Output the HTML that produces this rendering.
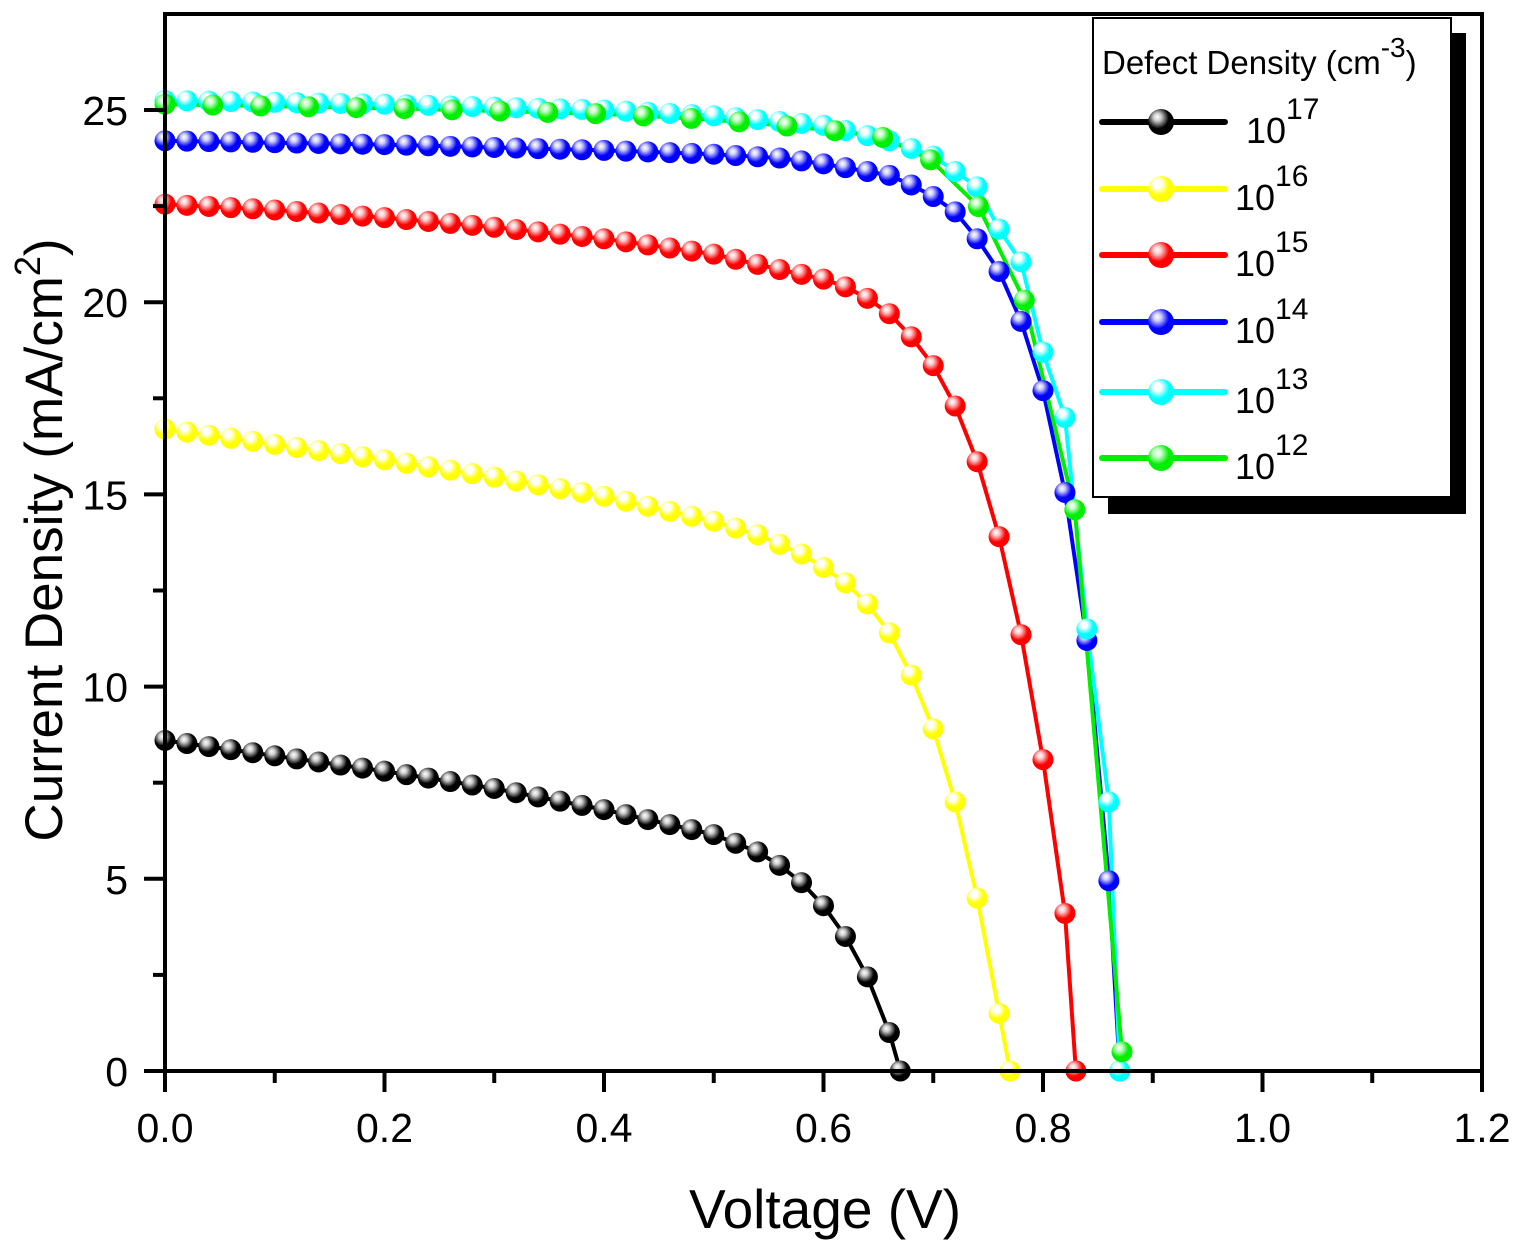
<!DOCTYPE html>
<html><head><meta charset="utf-8"><style>
html,body{margin:0;padding:0;background:#fff}
svg{display:block;font-family:"Liberation Sans",Arial,sans-serif}
</style></head><body>
<svg id="s" width="1526" height="1247" viewBox="0 0 1526 1247" xmlns="http://www.w3.org/2000/svg">
<defs id="d"></defs>
<g id="plot"></g>
<rect x="165" y="14" width="1317" height="1057" fill="none" stroke="#000" stroke-width="4"/>
<g id="ticks" stroke="#000" stroke-width="4"></g>
<g font-size="41" text-anchor="middle" id="xl"></g>
<g font-size="41" text-anchor="end" id="yl"></g>
<text x="825" y="1228" font-size="55" text-anchor="middle">Voltage (V)</text>
<text transform="translate(62,540) rotate(-90)" font-size="53" text-anchor="middle">Current Density (mA/cm<tspan dy="-22" font-size="36">2</tspan><tspan dy="22">)</tspan></text>
<rect x="1108" y="33" width="358" height="481" fill="#000"/>
<rect x="1093" y="18" width="358" height="479" fill="#fff" stroke="#000" stroke-width="2"/>
<text x="1102" y="74" font-size="33">Defect Density (cm<tspan dy="-17" font-size="28">-3</tspan><tspan dy="17">)</tspan></text>
<g id="leg"></g>
</svg>
<script>
const X=v=>165+v*1097.5, Y=j=>1071-j*38.44;
const ns="http://www.w3.org/2000/svg";
function el(t,a,p){const e=document.createElementNS(ns,t);for(const k in a)e.setAttribute(k,a[k]);p.appendChild(e);return e;}
const series=[
{c:"#000000",hi:"#cccccc",k:[[0,8.6],[0.1,8.2],[0.2,7.8],[0.3,7.35],[0.4,6.8],[0.5,6.15],[0.54,5.7],[0.56,5.35],[0.58,4.9],[0.6,4.3],[0.62,3.5],[0.64,2.45],[0.66,1.0],[0.67,0]],st:0.02,end:0.67,lab:"17"},
{c:"#ffff00",hi:"#ffffff",k:[[0,16.7],[0.1,16.3],[0.2,15.9],[0.3,15.45],[0.4,14.95],[0.5,14.3],[0.54,13.95],[0.58,13.45],[0.6,13.1],[0.62,12.7],[0.64,12.15],[0.66,11.4],[0.68,10.3],[0.7,8.9],[0.72,7.0],[0.74,4.5],[0.76,1.5],[0.77,0]],st:0.02,end:0.77,lab:"16"},
{c:"#ff0000",hi:"#ffcccc",k:[[0,22.55],[0.1,22.4],[0.2,22.2],[0.3,21.95],[0.4,21.65],[0.5,21.25],[0.56,20.85],[0.6,20.6],[0.62,20.4],[0.64,20.1],[0.66,19.7],[0.68,19.1],[0.7,18.35],[0.72,17.3],[0.74,15.85],[0.76,13.9],[0.78,11.35],[0.8,8.1],[0.82,4.1],[0.83,0]],st:0.02,end:0.83,lab:"15"},
{c:"#0000ff",hi:"#ccccff",k:[[0,24.2],[0.2,24.1],[0.4,23.95],[0.5,23.85],[0.56,23.75],[0.6,23.6],[0.62,23.5],[0.64,23.4],[0.66,23.3],[0.68,23.05],[0.7,22.75],[0.72,22.35],[0.74,21.65],[0.76,20.8],[0.78,19.5],[0.8,17.7],[0.82,15.05],[0.84,11.2],[0.86,4.95],[0.87,0]],st:0.02,end:0.87,lab:"14"},
{c:"#00ffff",hi:"#ffffff",k:[[0,25.25],[0.2,25.15],[0.4,25.0],[0.5,24.85],[0.6,24.6],[0.66,24.2],[0.7,23.8],[0.72,23.4],[0.74,23.0],[0.76,21.9],[0.78,21.05],[0.8,18.7],[0.82,17.0],[0.84,11.5],[0.86,7.0],[0.87,0]],st:0.02,end:0.87,lab:"13"},
{c:"#00ee00",hi:"#ccffcc",k:[[0,25.15],[0.2,25.05],[0.4,24.9],[0.5,24.75],[0.6,24.5],[0.653,24.3],[0.698,23.7],[0.741,22.5],[0.783,20.05],[0.829,14.6],[0.872,0.5]],lab:"12",
 marks:(()=>{const a=[];for(let i=0;i<=17;i++)a.push(i*0.0436);a.push(0.783,0.829,0.872);return a;})()}
];
function interp(k,v){for(let i=1;i<k.length;i++){if(v<=k[i][0]+1e-9){const a=k[i-1],b=k[i];const t=(v-a[0])/(b[0]-a[0]);return a[1]+t*(b[1]-a[1]);}}return k[k.length-1][1];}
const defs=document.getElementById("d"),plot=document.getElementById("plot"),leg=document.getElementById("leg");
series.forEach((s,i)=>{
 const g=el("radialGradient",{id:"g"+i,cx:"0.4",cy:"0.35",r:"0.6",fx:"0.35",fy:"0.3"},defs);
 el("stop",{offset:"0","stop-color":"#fff"},g);
 el("stop",{offset:"0.25","stop-color":s.hi},g);
 el("stop",{offset:"0.7","stop-color":s.c},g);
 el("stop",{offset:"1","stop-color":s.c},g);
});
series.forEach((s,i)=>{
 let pts=[];
 if(s.marks){pts=s.marks.map(v=>[v,interp(s.k,v)]);}
 else{for(let v=0;v<s.end-1e-6;v+=s.st)pts.push([v,interp(s.k,v)]);pts.push([s.end,s.k[s.k.length-1][1]]);}
 el("polyline",{points:pts.map(p=>X(p[0]).toFixed(1)+","+Y(p[1]).toFixed(1)).join(" "),fill:"none",stroke:s.c,"stroke-width":4,"stroke-linejoin":"round"},plot);
 s.pts=pts;
});
series.forEach((s,i)=>{s.pts.forEach(p=>el("circle",{cx:X(p[0]),cy:Y(p[1]),r:10.5,fill:"url(#g"+i+")"},plot));});
const tk=document.getElementById("ticks"),xl=document.getElementById("xl"),yl=document.getElementById("yl");
for(let i=0;i<=12;i++){const x=X(i*0.1);const maj=i%2==0;el("line",{x1:x,y1:1071,x2:x,y2:maj?1092:1083},tk);
 if(maj){const t=el("text",{x:x,y:1142},xl);t.textContent=(i/10).toFixed(1);}}
for(let j=0;j<=27;j+=2.5){const y=Y(j);const maj=(j%5==0);el("line",{x1:165,y1:y,x2:maj?144:153,y2:y},tk);
 if(maj){const t=el("text",{x:128,y:y+15},yl);t.textContent=j;}}
const ly=[122,189,255,322,392,458];
series.forEach((s,i)=>{const y=ly[i];
 el("line",{x1:1102,y1:y,x2:1225,y2:y,stroke:s.c,"stroke-width":6,"stroke-linecap":"round"},leg);
 el("circle",{cx:1161,cy:y,r:13,fill:"url(#g"+i+")"},leg);
 const t=el("text",{x:i==0?1246:1235,y:y+21,"font-size":36},leg);t.textContent="10";
 const sp=el("tspan",{dy:-24,"font-size":30},t);sp.textContent=s.lab;
});
</script>
</body></html>
